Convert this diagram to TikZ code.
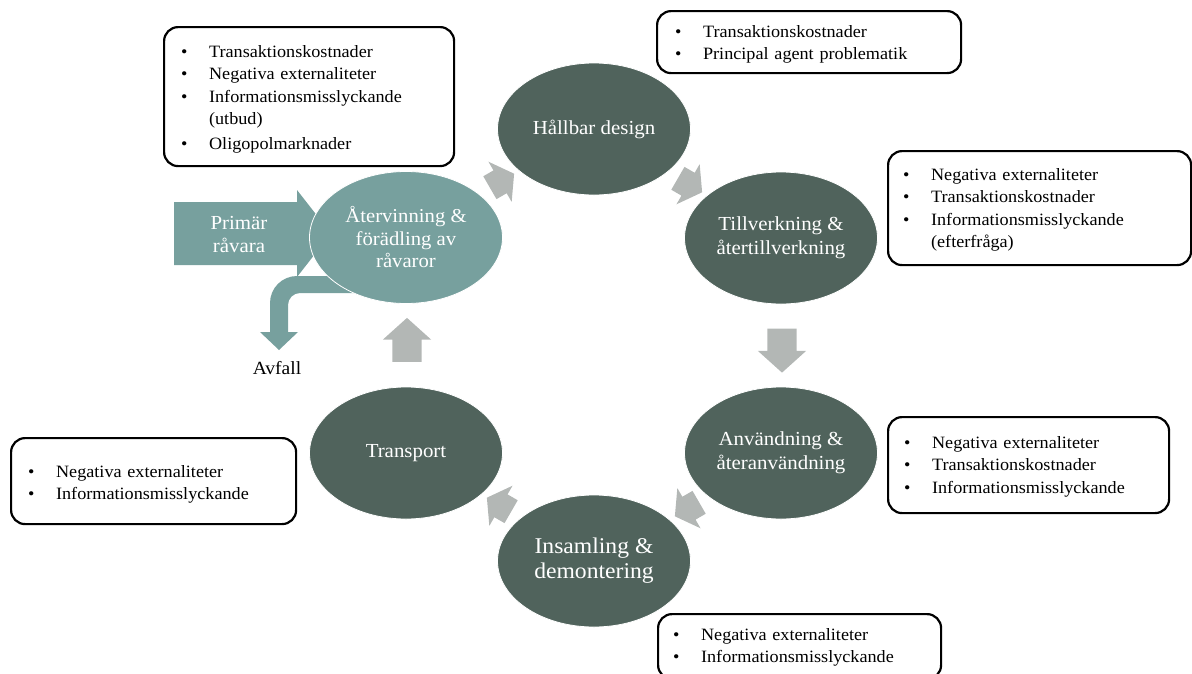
\documentclass[tikz,border=0pt]{standalone}
\usepackage{fontspec}
\setmainfont{Liberation Serif}[FakeStretch=1.05]
\usetikzlibrary{shapes.geometric,shapes.arrows}
\definecolor{darkstage}{RGB}{80,99,92}
\definecolor{tealstage}{RGB}{119,160,158}
\definecolor{grayarrow}{RGB}{179,183,181}
\newcommand{\bl}{\makebox[28pt][l]{•}}
\newcommand{\topstrut}[1]{\rule{0pt}{#1pt}}
\begin{document}
\begin{tikzpicture}[x=1pt,y=-1pt,
  stage/.style={ellipse, fill=darkstage, draw=white, line width=0.8pt,
    minimum width=193pt, minimum height=132pt, inner sep=0pt, text=white,
    align=center, font=\fontsize{19.9}{24}\selectfont},
  infobox/.style={draw=black, line width=2.2pt, rounded corners=14pt, fill=white,
    align=left, inner ysep=0pt, anchor=north west,
    font=\fontsize{17.3}{22.5}\selectfont},
  flowbig/.style={single arrow, fill=grayarrow, draw=none, inner xsep=0pt,
    inner ysep=14.5pt, minimum height=44pt, single arrow head extend=9.5pt,
    single arrow tip angle=96},
  flowsmall/.style={single arrow, fill=grayarrow, draw=none, inner xsep=0pt,
    inner ysep=13pt, minimum height=28pt, single arrow head extend=10pt,
    single arrow tip angle=110}
]
\useasboundingbox (0,0) rectangle (1192,673);

% primary raw material arrow
\fill[tealstage] (174,202) -- (297,202) -- (297,190) -- (331,233.5) -- (297,277)
  -- (297,265) -- (174,265) -- cycle;
\node[text=white, align=center, font=\fontsize{19.9}{23}\selectfont] (prim) at (239,234.5) {Primär\\råvara};

% waste arrow
\fill[tealstage] (360,276) -- (297,276) arc[start angle=270, end angle=180, radius=27]
  -- (270,332) -- (260,332) -- (279,350) -- (298,332) -- (288,332) -- (288,305)
  arc[start angle=180, end angle=270, radius=12] -- (360,293) -- cycle;
\node[font=\fontsize{18.6}{20}\selectfont] (avfall) at (277,368) {Avfall};

% stages
\node[stage, fill=tealstage, font=\fontsize{19.7}{22.5}\selectfont] (A) at (406,237.5) {Återvinning \&\\förädling av\\råvaror};
\node[stage] (H) at (594,129) {Hållbar design};
\node[stage] (T) at (781,238) {Tillverkning \&\\återtillverkning};
\node[stage] (U) at (781,453) {Användning \&\\återanvändning};
\node[stage, font=\fontsize{22.5}{25}\selectfont] (I) at (594,561) {Insamling \&\\demontering};
\node[stage] (Tr) at (406,453) {Transport};

% cycle arrows
\node[flowsmall, rotate=30] (a1) at (498,183) {};
\node[flowsmall, rotate=-30] (a2) at (686,183) {};
\node[flowbig, rotate=-90] (a3) at (782,344) {};
\node[flowsmall, rotate=-150] (a4) at (691,507) {};
\node[flowsmall, rotate=150] (a5) at (503,507) {};
\node[flowbig, rotate=90] (a6) at (407,346.5) {};

% info boxes
\node[infobox, minimum width=290pt, minimum height=139pt, inner xsep=17pt, text width=256pt] (b1) at (163,26)
 {\topstrut{18}\bl Transaktionskostnader\\\bl Negativa externaliteter\\\bl Informationsmisslyckande\\\hspace*{28pt}(utbud)\\[2.5pt]\bl Oligopolmarknader};
\node[infobox, minimum width=304pt, minimum height=62pt, inner xsep=18pt, text width=268pt] (b2) at (656,10)
 {\topstrut{17}\bl Transaktionskostnader\\\bl Principal agent problematik};
\node[infobox, minimum width=303pt, minimum height=114pt, inner xsep=15pt, text width=273pt] (b3) at (887,150)
 {\topstrut{16}\bl Negativa externaliteter\\\bl Transaktionskostnader\\\bl Informationsmisslyckande\\\hspace*{28pt}(efterfråga)};
\node[infobox, minimum width=281pt, minimum height=96pt, inner xsep=16pt, text width=249pt] (b4) at (887,416)
 {\topstrut{15}\bl Negativa externaliteter\\\bl Transaktionskostnader\\\bl Informationsmisslyckande};
\node[infobox, minimum width=283pt, minimum height=65pt, inner xsep=15pt, text width=253pt] (b5) at (657,613)
 {\topstrut{14}\bl Negativa externaliteter\\\bl Informationsmisslyckande};
\node[infobox, minimum width=285pt, minimum height=86pt, inner xsep=17pt, text width=251pt] (b6) at (10,437)
 {\topstrut{19}\bl Negativa externaliteter\\\bl Informationsmisslyckande};
\end{tikzpicture}
\end{document}
